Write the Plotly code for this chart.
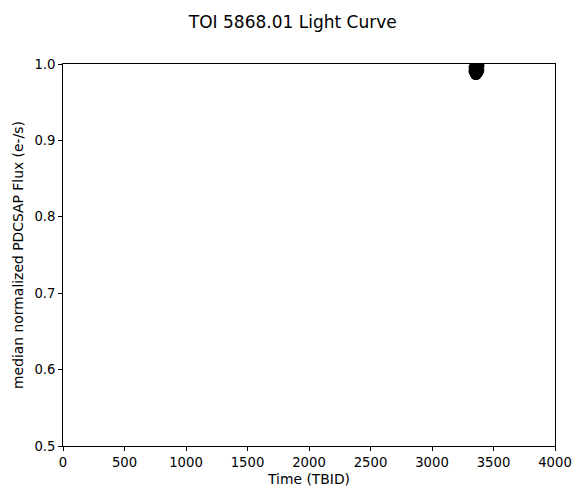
import plotly.graph_objects as go

# Light curve samples (time in TBJD, median-normalized PDCSAP flux)
time = [3325, 3328, 3331, 3334, 3337, 3340, 3343, 3346, 3349, 3352,
        3355, 3358, 3361, 3364, 3367, 3370, 3373, 3376, 3379, 3382,
        3385, 3388, 3391, 3394, 3397,
        3326, 3332, 3338, 3344, 3350, 3356, 3362, 3368, 3374, 3380,
        3386, 3392, 3398, 3335, 3347, 3359, 3371, 3383, 3395]
flux = [0.991, 0.990, 0.989, 0.988, 0.987, 0.986, 0.985, 0.985, 0.984, 0.984,
        0.984, 0.984, 0.984, 0.984, 0.985, 0.985, 0.986, 0.986, 0.987, 0.988,
        0.988, 0.989, 0.990, 0.991, 0.992,
        0.996, 0.994, 0.993, 0.995, 0.992, 0.997, 0.994, 0.996, 0.993, 0.995,
        0.997, 0.996, 0.998, 0.999, 1.000, 0.999, 1.001, 0.998, 1.000]

x_ticks = [0, 500, 1000, 1500, 2000, 2500, 3000, 3500, 4000]
y_ticks = [0.5, 0.6, 0.7, 0.8, 0.9, 1.0]

fig = go.Figure()
fig.add_trace(go.Scatter(
    x=time, y=flux, mode="markers",
    marker=dict(color="black", size=7, line=dict(width=0)),
    cliponaxis=True, showlegend=False,
))

font = dict(family="DejaVu Sans", size=13.9, color="black")
tick_font = dict(family="DejaVu Sans", size=13.2, color="black")
axis_common = dict(
    showgrid=False, zeroline=False, showline=True, linecolor="black",
    linewidth=1, mirror=True, ticks="outside", ticklen=4, tickwidth=1,
    tickcolor="black", tickfont=tick_font, automargin=False,
)

fig.update_layout(
    width=573, height=488,
    paper_bgcolor="white", plot_bgcolor="white",
    margin=dict(l=63, r=18, t=64, b=42, autoexpand=False),
    font=font,
    title=dict(text="TOI 5868.01 Light Curve", x=0.511, xanchor="center",
               yref="container", y=1 - 22 / 488, yanchor="middle",
               font=dict(family="DejaVu Sans", size=17, color="black")),
    xaxis=dict(range=[0, 4000], tickvals=x_ticks,
               ticktext=[str(v) for v in x_ticks],
               title=dict(text="Time (TBID)", font=font, standoff=5),
               **axis_common),
    yaxis=dict(range=[0.5, 1.0], tickvals=y_ticks,
               ticktext=[f"{v:.1f}" for v in y_ticks],
               title=dict(text="median normalized PDCSAP Flux (e-/s)", font=font, standoff=7),
               **axis_common),
)

fig.write_html("out.html",
               config={"displayModeBar": False},
               post_script="document.body.style.margin='0';document.body.style.padding='0';")
